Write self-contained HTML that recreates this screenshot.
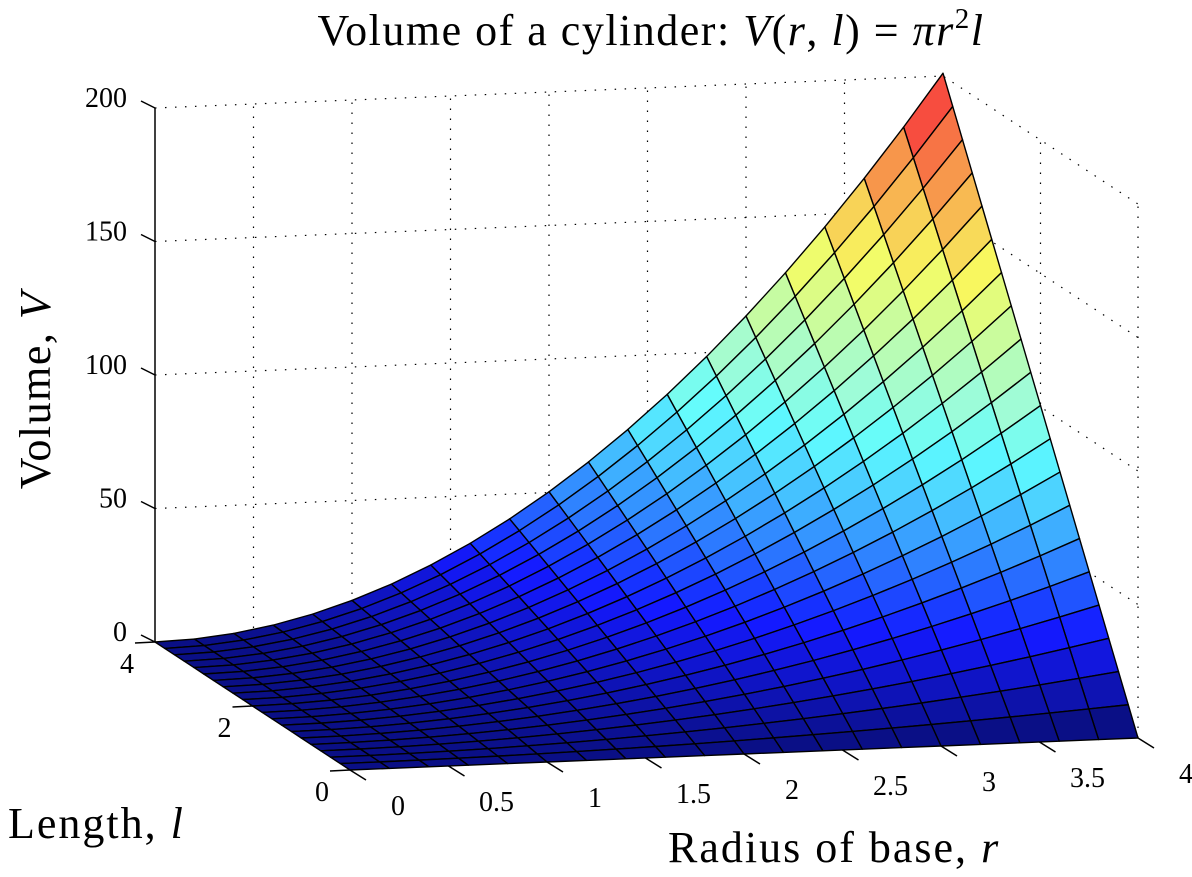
<!DOCTYPE html>
<html><head><meta charset="utf-8"><style>
body{margin:0;background:#fff;}
svg text{font-family:"Liberation Serif",serif;fill:#000;}
</style></head><body>
<svg id="chart" width="1192" height="872" viewBox="0 0 1192 872" xmlns="http://www.w3.org/2000/svg">
<g id="walls"></g>
<g id="surf"></g>
<g id="axes"></g>
<text x="651" y="45" font-size="44" letter-spacing="1.5" text-anchor="middle">Volume of a cylinder:  <tspan font-style="italic">V</tspan>(<tspan font-style="italic">r</tspan>, <tspan font-style="italic">l</tspan>)  =  <tspan font-style="italic">πr</tspan><tspan font-size="29" dy="-17">2</tspan><tspan font-style="italic" dy="17">l</tspan></text>
<text transform="translate(50,390) rotate(-90)" font-size="44" letter-spacing="1.5" text-anchor="middle">Volume,  <tspan font-style="italic">V</tspan></text>
<text x="8" y="838" font-size="44" letter-spacing="2">Length,  <tspan font-style="italic">l</tspan></text>
<text x="668" y="862" font-size="44" letter-spacing="2">Radius of base,  <tspan font-style="italic">r</tspan></text>
</svg>
<script>
const rTicks=[0,0.5,1,1.5,2,2.5,3,3.5,4];
const rTickLabels=["0","0.5","1","1.5","2","2.5","3","3.5","4"];
const lTicks=[0,2,4];
const lTickLabels=["0","2","4"];
const vTicks=[0,50,100,150,200];
const vTickLabels=["0","50","100","150","200"];
const rRange=[0,4];
const lRange=[0,4];
const nSteps=20;
const vMax=201;

const NS="http://www.w3.org/2000/svg";
function P(r,l,v){return [350+197*r-48.75*l, 770-8*r-32*l-2.67*v];}
function vol(r,l){return Math.PI*r*r*l;}
function jet(t){t=Math.max(0,Math.min(1,t));
 function f(x){return Math.max(0,Math.min(1,1.5-Math.abs(4*t-x)));}
 let r=f(3),g=f(2),b=f(1);
 r=r*0.92+0.04;g=g*0.92+0.06;b=b*0.95+0.05;
 let w;
 if(t<0.15)w=0.05*t/0.15;
 else if(t<0.45)w=0.05+0.4*(t-0.15)/0.3;
 else w=0.45-0.33*(t-0.45)/0.55;
 r=r+(1-r)*w;g=g+(1-g)*w;b=b+(1-b)*w;
 return `rgb(${Math.round(r*255)},${Math.round(g*255)},${Math.round(b*255)})`;}
function mk(tag,attrs,parent){const e=document.createElementNS(NS,tag);for(const k in attrs)e.setAttribute(k,attrs[k]);parent.appendChild(e);return e;}
const walls=document.getElementById('walls'),surf=document.getElementById('surf'),axes=document.getElementById('axes');
const dot={stroke:'#000','stroke-width':1.2,'stroke-dasharray':'1.5 8.5',fill:'none'};
vTicks.forEach(v=>{if(v===0)return;
 const a=P(0,4,v),b=P(4,4,v),c=P(4,0,v);
 const ln=mk('polyline',Object.assign({points:`${a} ${b} ${c}`},dot),walls);
 
 });
rTicks.forEach(r=>{if(r===0)return;
 const a=P(r,4,0),b=P(r,4,200);
 const ln=mk('line',Object.assign({x1:a[0],y1:a[1],x2:b[0],y2:b[1]},dot),walls);
 
 });
lTicks.forEach(l=>{if(l===4)return;
 const a=P(4,l,0),b=P(4,l,200);
 const ln=mk('line',Object.assign({x1:a[0],y1:a[1],x2:b[0],y2:b[1]},dot),walls);
 
 });
const dr=(rRange[1]-rRange[0])/nSteps,dl=(lRange[1]-lRange[0])/nSteps;
const cells=[];
for(let i=0;i<nSteps;i++)for(let j=0;j<nSteps;j++)cells.push([i,j]);
cells.sort((a,b)=>(8*b[0]+32*b[1])-(8*a[0]+32*a[1]));
cells.forEach(([i,j])=>{
 const r0=rRange[0]+i*dr,r1=r0+dr,l0=lRange[0]+j*dl,l1=l0+dl;
 const pts=[P(r0,l0,vol(r0,l0)),P(r1,l0,vol(r1,l0)),P(r1,l1,vol(r1,l1)),P(r0,l1,vol(r0,l1))];
 const vc=vol(r0,l0);
 const poly=mk('polygon',{points:pts.map(p=>p.join(',')).join(' '),fill:jet(vc/vMax),stroke:'#000','stroke-width':1.4,'stroke-linejoin':'round'},surf);
 
 
});
const z0=P(0,4,0),z1=P(0,4,200);
const za=mk('line',{x1:z0[0],y1:z0[1],x2:z1[0],y2:z1[1],stroke:'#000','stroke-width':1.5},axes);


vTicks.forEach((v,k)=>{const p=P(0,4,v);
 const t=mk('line',{x1:p[0],y1:p[1],x2:p[0]-14,y2:p[1]-7,stroke:'#000','stroke-width':1.5},axes);
 
 
 const tx=mk('text',{x:p[0]-28,y:p[1]-1,'font-size':28,'text-anchor':'end'},axes);tx.textContent=vTickLabels[k];
 
 });
rTicks.forEach((r,k)=>{const p=P(r,0,0);
 const t=mk('line',{x1:p[0],y1:p[1],x2:p[0]+16,y2:p[1]+10,stroke:'#000','stroke-width':1.5},axes);
 
 
 const tx=mk('text',{x:p[0]+48,y:p[1]+45,'font-size':28,'text-anchor':'middle'},axes);tx.textContent=rTickLabels[k];
 
 });
lTicks.forEach((l,k)=>{const p=P(0,l,0);
 const t=mk('line',{x1:p[0],y1:p[1],x2:p[0]-20,y2:p[1]+1,stroke:'#000','stroke-width':1.5},axes);
 
 
 const tx=mk('text',{x:p[0]-28,y:p[1]+31,'font-size':28,'text-anchor':'middle'},axes);tx.textContent=lTickLabels[k];
 
 });
</script>
</body></html>
